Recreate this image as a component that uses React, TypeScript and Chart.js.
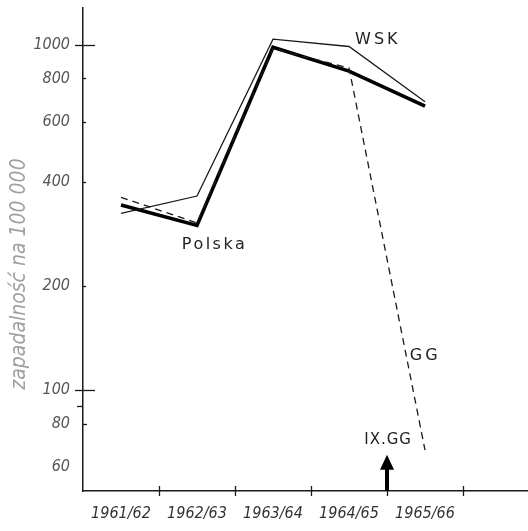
import React, { useEffect, useRef } from "react";
import { Chart, registerables } from "chart.js";

Chart.register(...registerables);

// Seasons on the horizontal axis
const categories = ["1961/62", "1962/63", "1963/64", "1964/65", "1965/66"];
// Incidence per 100 000
const polska = [344, 300, 985, 840, 665];
const wsk = [325, 365, 1040, 990, 685];
const gg = [362, 305, 975, 858, 67];
// Labelled values on the logarithmic axis
const yTickValues = [60, 80, 100, 200, 400, 600, 800, 1000];
// Where the IX GG arrow points (season boundary) and its tip
const arrowBoundary = 4;
const arrowTipValue = 65;

const INK = "#1a1a1a";
const TICK_FONT = "'DejaVu Sans Condensed', 'DejaVu Sans', sans-serif";
const LABEL_FONT = "'DejaVu Sans', sans-serif";

const toPoints = (arr: number[]) => arr.map((y, i) => ({ x: i + 0.5, y }));

const decorations = {
  id: "decorations",
  afterDraw(chart: any) {
    const { ctx, scales } = chart;
    const xs = scales.x;
    const ys = scales.y;
    const x0 = xs.left;
    const yBase = ys.bottom;
    ctx.save();
    ctx.strokeStyle = INK;
    ctx.lineWidth = 1.3;

    // y-axis tick marks
    const yMark = (v: number, l: number, r: number) => {
      const py = Math.round(ys.getPixelForValue(v)) + 0.5;
      ctx.beginPath();
      ctx.moveTo(x0 - l, py);
      ctx.lineTo(x0 + r, py);
      ctx.stroke();
    };
    yMark(1000, 8, 12);
    yMark(100, 8, 12);
    yMark(90, 6, 0);
    yMark(80, 0, 4);
    [200, 400, 600, 800].forEach((v) => yMark(v, 0, 3));

    // x-axis boundary tick marks
    for (let b = 1; b <= categories.length; b++) {
      const px = Math.round(xs.getPixelForValue(b)) + 0.5;
      ctx.beginPath();
      ctx.moveTo(px, yBase - 5);
      ctx.lineTo(px, yBase + 5);
      ctx.stroke();
    }

    // series names
    ctx.fillStyle = "#222";
    ctx.textBaseline = "middle";
    ctx.textAlign = "left";
    ctx.font = `16px ${LABEL_FONT}`;
    (ctx as any).letterSpacing = "3px";
    ctx.fillText("WSK", xs.getPixelForValue(3.58), ys.getPixelForValue(1034));
    (ctx as any).letterSpacing = "2.5px";
    ctx.fillText("Polska", xs.getPixelForValue(1.3), ys.getPixelForValue(263));
    (ctx as any).letterSpacing = "3px";
    ctx.fillText("GG", xs.getPixelForValue(4.3), ys.getPixelForValue(126));
    ctx.font = `15px ${LABEL_FONT}`;
    (ctx as any).letterSpacing = "1px";
    ctx.fillText("IX.GG", xs.getPixelForValue(3.7), ys.getPixelForValue(71.5));
    (ctx as any).letterSpacing = "0px";

    // arrow marking the IX GG season
    const ax = xs.getPixelForValue(arrowBoundary);
    const tip = ys.getPixelForValue(arrowTipValue);
    ctx.fillStyle = "#000";
    ctx.fillRect(ax - 2, tip + 12, 4, yBase - tip - 12);
    ctx.beginPath();
    ctx.moveTo(ax, tip);
    ctx.lineTo(ax - 7, tip + 15);
    ctx.lineTo(ax + 7, tip + 15);
    ctx.closePath();
    ctx.fill();

    // rotated axis title
    ctx.translate(20, 274);
    ctx.rotate(-Math.PI / 2);
    ctx.textAlign = "center";
    ctx.fillStyle = "#a0a0a0";
    ctx.font = `italic 21px ${TICK_FONT}`;
    ctx.fillText("zapadalność na 100 000", 0, 0);
    ctx.restore();
  },
};

export default function App() {
  const ref = useRef<HTMLCanvasElement | null>(null);

  useEffect(() => {
    if (!ref.current) return;
    const chart = new Chart(ref.current, {
      type: "line",
      data: {
        datasets: [
          {
            label: "WSK",
            data: toPoints(wsk),
            borderColor: INK,
            borderWidth: 1.3,
            pointRadius: 0,
            tension: 0,
          },
          {
            label: "GG",
            data: toPoints(gg),
            borderColor: INK,
            borderWidth: 1.3,
            borderDash: [7, 5],
            pointRadius: 0,
            tension: 0,
          },
          {
            label: "Polska",
            data: toPoints(polska),
            borderColor: "#000",
            borderWidth: 3.6,
            pointRadius: 0,
            tension: 0,
          },
        ],
      },
      options: {
        animation: false,
        responsive: false,
        events: [],
        layout: { padding: { top: 8, right: 0, left: 0, bottom: 0 } },
        plugins: { legend: { display: false }, tooltip: { enabled: false } },
        scales: {
          x: {
            type: "linear",
            min: 0,
            max: 5.855,
            grid: { display: false },
            border: { display: true, color: INK, width: 1.5 },
            afterBuildTicks: (s: any) => {
              s.ticks = categories.map((_, i) => ({ value: i + 0.5 }));
            },
            afterFit: (s: any) => {
              s.height = 40;
              s.paddingLeft = 0;
              s.paddingRight = 0;
            },
            ticks: {
              autoSkip: false,
              maxRotation: 0,
              padding: 5,
              color: "#333",
              font: { family: TICK_FONT, size: 16, style: "italic" },
              callback: (v: any) => categories[Math.round(Number(v) - 0.5)] ?? "",
            },
          },
          y: {
            type: "logarithmic",
            min: 51,
            max: 1280,
            grid: { display: false },
            border: { display: true, color: INK, width: 1.5 },
            afterBuildTicks: (s: any) => {
              s.ticks = yTickValues.map((value) => ({ value }));
            },
            afterFit: (s: any) => {
              s.width = 83;
              s.paddingTop = 0;
              s.paddingBottom = 0;
            },
            ticks: {
              padding: 5,
              color: "#555",
              font: { family: TICK_FONT, size: 16, style: "italic" },
              callback: (v: any) => String(v),
            },
          },
        },
      },
      plugins: [decorations],
    } as any);
    return () => chart.destroy();
  }, []);

  return (
    <div style={{ position: "absolute", left: 0, top: 0, width: 528, height: 531, background: "#fff" }}>
      <canvas ref={ref} width={528} height={531} style={{ display: "block" }} />
    </div>
  );
}
